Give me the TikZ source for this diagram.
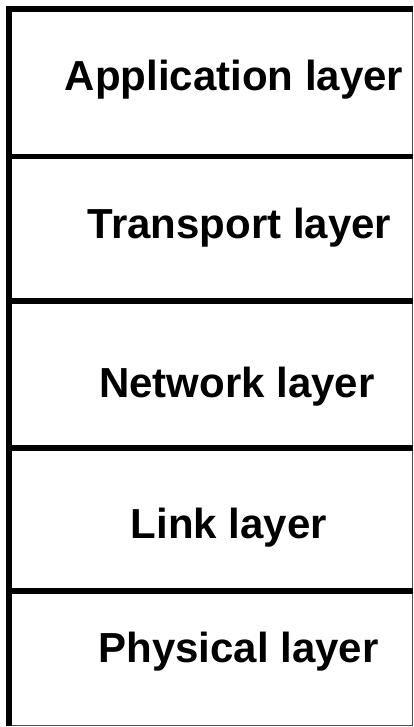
\documentclass[tikz,border=0pt]{standalone}
\usepackage{fontspec}
\setmainfont{Liberation Sans}
\begin{document}
\begin{tikzpicture}[x=1pt,y=-1pt,
  heavy/.style={line width=6pt, black},
  divider/.style={line width=5.5pt, black},
  hairline/.style={line width=1.5pt, black!70},
  layerlabel/.style={inner sep=0pt, anchor=base, font=\fontsize{42}{44}\selectfont\bfseries}]
  \useasboundingbox (0,0) rectangle (414,727);
  \fill[white] (0,0) rectangle (414,727);

  % outer frame: heavy top and left, thin right and bottom
  \draw[hairline] (412.7,9.5) -- (412.7,725.5) -- (9,725.5);
  \draw[heavy] (9,726.2) -- (9,9.5) -- (413.4,9.5);

  % layer dividers
  \draw[divider] (12,156.5) -- (413.4,156.5);
  \draw[divider] (12,301) -- (413.4,301);
  \draw[divider] (12,448) -- (413.4,448);
  \draw[divider] (12,591) -- (413.4,591);

  % layer names
  \node[layerlabel] (app)  at (234,90.5)  {Application layer};
  \node[layerlabel] (tra)  at (239.5,238) {Transport layer};
  \node[layerlabel] (net)  at (237,397)   {Network layer};
  \node[layerlabel] (lnk)  at (229,538)   {Link layer};
  \node[layerlabel] (phy)  at (238.5,662) {Physical layer};
\end{tikzpicture}
\end{document}
